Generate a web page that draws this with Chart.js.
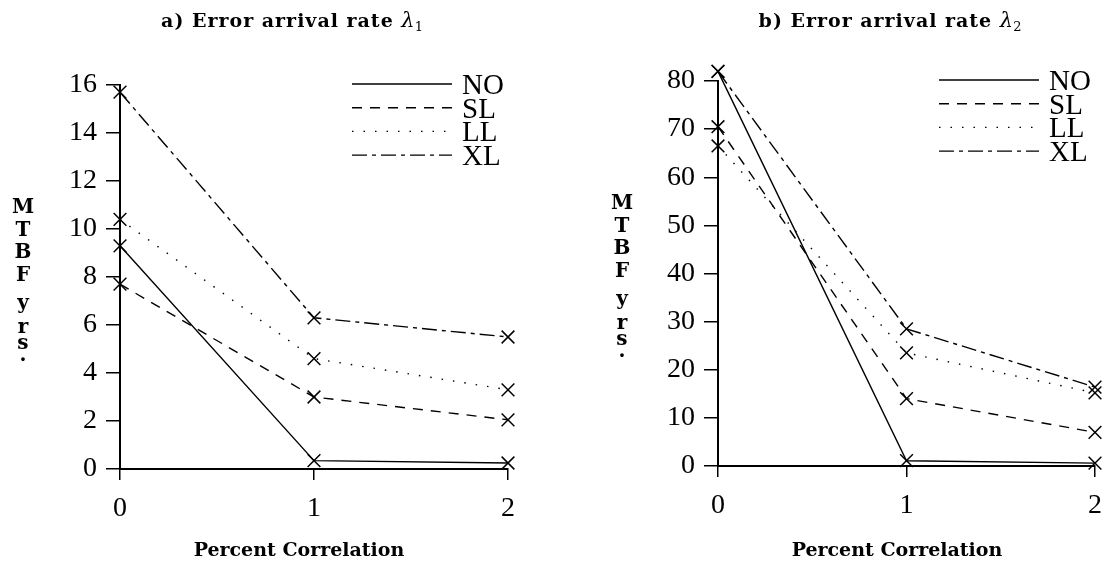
<!DOCTYPE html>
<html>
<head>
<meta charset="utf-8">
<script src="https://cdn.jsdelivr.net/npm/chart.js@4"></script>
<style>
  html, body { margin: 0; padding: 0; background: #fff; }
  #wrap { position: relative; width: 1114px; height: 561px; overflow: hidden; }
  .pane { position: absolute; top: 0; width: 557px; height: 561px; }
</style>
</head>
<body>
<div id="wrap">
  <div class="pane" style="left:0"><canvas id="chartA"></canvas></div>
  <div class="pane" style="left:557px"><canvas id="chartB"></canvas></div>
</div>
<script>
// percent correlation on the x axis
const correlation = [0, 1, 2];
const seriesNames = ["NO", "SL", "LL", "XL"];

// a) error arrival rate lambda 1, MTBF in years
const mtbfA_NO = [9.3, 0.35, 0.25];
const mtbfA_SL = [7.7, 3.0, 2.05];
const mtbfA_LL = [10.4, 4.6, 3.3];
const mtbfA_XL = [15.7, 6.3, 5.5];

// b) error arrival rate lambda 2, MTBF in years
const mtbfB_NO = [82, 1.1, 0.6];
const mtbfB_SL = [70.5, 14, 7];
const mtbfB_LL = [66.5, 23.5, 15.2];
const mtbfB_XL = [82, 28.5, 16.4];

const yTicksA = [0, 2, 4, 6, 8, 10, 12, 14, 16];
const yTicksB = [0, 10, 20, 30, 40, 50, 60, 70, 80];
const yTitleLetters = ["M", "T", "B", "F", "y", "r", "s", "."];

// line styles per series
const lineDash = { NO: [], SL: [10, 8], LL: [1.5, 10], XL: [15, 5, 4, 5] };
const INK = "#000";
const BOLD = 'bold 19px "DejaVu Serif"';

function buildDatasets(values) {
  return seriesNames.map((name, i) => ({
    label: name,
    data: correlation.map((c, j) => ({ x: c, y: values[i][j] })),
    borderColor: INK,
    borderWidth: 1.4,
    borderDash: lineDash[name],
    tension: 0,
    fill: false,
    clip: false,
    pointStyle: "crossRot",
    pointRadius: 9,
    pointBorderWidth: 1.5,
    pointBorderColor: INK,
    pointBackgroundColor: "transparent"
  }));
}

// titles, stacked y title, x title and legend, drawn like the paper figure
const paperText = {
  id: "paperText",
  afterDraw(chart, args, o) {
    const { ctx, chartArea: a } = chart;
    ctx.save();
    ctx.fillStyle = INK;
    ctx.textBaseline = "alphabetic";

    // title with italic lambda and subscript
    ctx.textAlign = "left";
    ctx.letterSpacing = "1px";
    ctx.font = BOLD;
    const w1 = ctx.measureText(o.title).width;
    ctx.letterSpacing = "0px";
    ctx.font = 'italic 21px "DejaVu Serif"';
    const w2 = ctx.measureText("λ").width;
    ctx.font = '13px "DejaVu Serif"';
    const w3 = ctx.measureText(o.sub).width;
    let x = o.titleX - (w1 + w2 + w3) / 2;
    ctx.letterSpacing = "1px";
    ctx.font = BOLD;
    ctx.fillText(o.title, x, 27);
    ctx.letterSpacing = "0px";
    x += w1;
    ctx.font = 'italic 21px "DejaVu Serif"';
    ctx.fillText("λ", x, 27);
    x += w2;
    ctx.font = '13px "DejaVu Serif"';
    ctx.fillText(o.sub, x, 31);

    // stacked y axis title
    ctx.textAlign = "center";
    ctx.font = 'bold 20px "DejaVu Serif"';
    const offs = [128, 151, 173, 196, 224, 248, 264, 276];
    yTitleLetters.forEach((ch, i) => ctx.fillText(ch, o.yTitleX, a.top + offs[i]));

    // x axis title
    ctx.font = BOLD;
    ctx.fillText("Percent Correlation", o.xTitleX, 556);

    // legend
    ctx.textAlign = "left";
    chart.data.datasets.forEach((ds, i) => {
      const y = a.top - 1 + i * 23.7;
      ctx.beginPath();
      ctx.setLineDash(ds.borderDash);
      ctx.lineWidth = 1.4;
      ctx.strokeStyle = INK;
      ctx.moveTo(a.right - 156, y);
      ctx.lineTo(a.right - 56, y);
      ctx.stroke();
      ctx.setLineDash([]);
      ctx.font = '29px "Liberation Serif"';
      ctx.fillText(ds.label, a.right - 46, y + 10);
    });
    ctx.restore();
  }
};

function makeChart(id, values, yTicks, t) {
  return new Chart(document.getElementById(id), {
    type: "line",
    data: { datasets: buildDatasets(values) },
    options: {
      responsive: true,
      maintainAspectRatio: false,
      animation: false,
      layout: { padding: { top: t.top, right: t.right, left: 0, bottom: 0 } },
      scales: {
        x: {
          type: "linear",
          min: correlation[0],
          max: correlation[correlation.length - 1],
          ticks: {
            stepSize: 1,
            color: INK,
            padding: 12,
            font: { family: "Liberation Serif", size: 28 }
          },
          grid: { drawOnChartArea: false, tickLength: 11, color: INK, lineWidth: 1.5 },
          border: { color: INK, width: 2 },
          afterFit(scale) { scale.height = t.xHeight; }
        },
        y: {
          min: yTicks[0],
          max: yTicks[yTicks.length - 1],
          afterBuildTicks(scale) { scale.ticks = yTicks.map(v => ({ value: v })); },
          ticks: {
            color: INK,
            padding: 9,
            font: { family: "Liberation Serif", size: 28 }
          },
          grid: { drawOnChartArea: false, tickLength: 14, color: INK, lineWidth: 1.5 },
          border: { color: INK, width: 2 },
          afterFit(scale) { scale.width = t.yWidth; }
        }
      },
      plugins: {
        legend: { display: false },
        tooltip: { enabled: false },
        paperText: {
          title: t.title, sub: t.sub,
          titleX: t.titleX, yTitleX: t.yTitleX, xTitleX: t.xTitleX
        }
      }
    },
    plugins: [paperText]
  });
}

makeChart("chartA", [mtbfA_NO, mtbfA_SL, mtbfA_LL, mtbfA_XL], yTicksA, {
  top: 85, right: 49, xHeight: 92, yWidth: 120,
  title: "a) Error arrival rate ", sub: "1",
  titleX: 292, yTitleX: 23, xTitleX: 299
});

makeChart("chartB", [mtbfB_NO, mtbfB_SL, mtbfB_LL, mtbfB_XL], yTicksB, {
  top: 81, right: 9, xHeight: 95, yWidth: 161,
  title: "b) Error arrival rate ", sub: "2",
  titleX: 333, yTitleX: 65, xTitleX: 340
});
</script>
</body>
</html>
